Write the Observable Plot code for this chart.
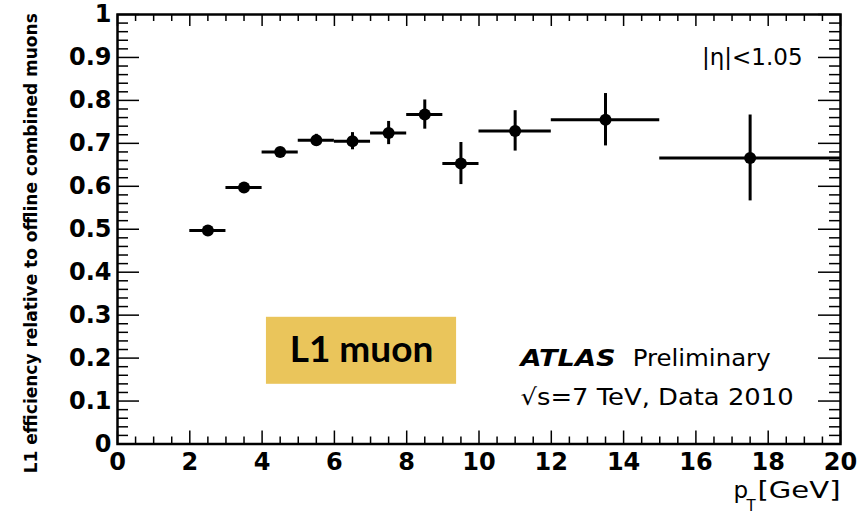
<!DOCTYPE html>
<html><head><meta charset="utf-8">
<script src="https://cdn.jsdelivr.net/npm/d3@7"></script>
<script src="https://cdn.jsdelivr.net/npm/@observablehq/plot@0.6"></script>
<style>body{margin:0;background:#fff;} svg{display:block;}</style>
</head><body><div id="chart"></div>
<script>
// pT bins [GeV]
const ptLow  = [2, 3, 4, 5, 6, 7, 8, 9, 10, 12, 15];
const ptHigh = [3, 4, 5, 6, 7, 8, 9, 10, 12, 15, 20];
// L1 efficiency and its (symmetric) uncertainty
const eff    = [0.497, 0.597, 0.680, 0.707, 0.705, 0.724, 0.767, 0.653, 0.729, 0.755, 0.666];
const effErr = [0.004, 0.004, 0.004, 0.014, 0.020, 0.027, 0.034, 0.049, 0.047, 0.061, 0.100];
// axis ticks
const xMajor = [0, 2, 4, 6, 8, 10, 12, 14, 16, 18, 20];
const xMinor = d3.range(0, 20.01, 0.5).filter(v => v % 2 !== 0);
const yMajor = [0, 0.1, 0.2, 0.3, 0.4, 0.5, 0.6, 0.7, 0.8, 0.9, 1];
const yMinor = d3.range(0, 50).map(i => i / 50).filter((v, i) => i % 5 !== 0);
// labels
const yTitle = "L1 efficiency relative to offline combined muons";
const etaLabel = "|η|<1.05";
const boxLabel = "L1 muon";

const W = 868, H = 521, mL = 117, mR = 28, mT = 14, mB = 77.5;
const fw = W - mL - mR, fh = H - mT - mB;
const idx = d3.range(eff.length);
const mid = i => (ptLow[i] + ptHigh[i]) / 2;
const font = "DejaVu Sans";

const plot = Plot.plot({
  width: W, height: H,
  marginLeft: mL, marginRight: mR, marginTop: mT, marginBottom: mB,
  x: {domain: [0, 20]},
  y: {domain: [0, 1]},
  style: {fontFamily: font, background: "white", color: "black", overflow: "visible"},
  marks: [
    // label box
    Plot.rect([boxLabel], {x1: 4.12, x2: 9.38, y1: 0.139, y2: 0.295, fill: "#EAC55B"}),
    Plot.text([boxLabel], {x: 6.75, y: 0.2175, text: d => d, fontFamily: "Lato", fontSize: 37, fontWeight: "bold", fill: "black"}),
    // tick labels
    Plot.axisX(xMajor, {tickSize: 0, tickPadding: 9, fontSize: 24, fontWeight: "bold", tickFormat: d => String(d), label: null}),
    Plot.axisY(yMajor, {tickSize: 0, tickPadding: 6, fontSize: 24, fontWeight: "bold",
      tickFormat: d => (d === 0 ? "0" : d === 1 ? "1" : d.toFixed(1)), label: null}),
    // inward ticks (ROOT style)
    Plot.tickX(xMajor, {x: d => d, insetTop: fh - 13, strokeWidth: 1.5}),
    Plot.tickX(xMinor, {x: d => d, insetTop: fh - 7, strokeWidth: 1.5}),
    Plot.tickX(xMajor, {x: d => d, insetBottom: fh - 12, strokeWidth: 1.5}),
    Plot.tickX(xMinor, {x: d => d, insetBottom: fh - 7, strokeWidth: 1.5}),
    Plot.tickY(yMajor, {y: d => d, insetRight: fw - 22, strokeWidth: 1.5}),
    Plot.tickY(yMinor, {y: d => d, insetRight: fw - 11, strokeWidth: 1.5}),
    Plot.tickY(yMajor, {y: d => d, insetLeft: fw - 22, strokeWidth: 1.5}),
    Plot.tickY(yMinor, {y: d => d, insetLeft: fw - 11, strokeWidth: 1.5}),
    Plot.frame({stroke: "black", strokeWidth: 2.5}),
    // data
    Plot.ruleY(idx, {y: i => eff[i], x1: i => ptLow[i], x2: i => ptHigh[i], stroke: "black", strokeWidth: 3}),
    Plot.ruleX(idx, {x: mid, y1: i => eff[i] - effErr[i], y2: i => eff[i] + effErr[i], stroke: "black", strokeWidth: 3}),
    Plot.dot(idx, {x: mid, y: i => eff[i], r: 6, fill: "black", stroke: "none"}),
    // annotations
    Plot.text([etaLabel], {x: 18.95, y: 0.9, text: d => d, textAnchor: "end", fontSize: 23, fill: "black"}),
    Plot.text(["ATLAS"], {x: 11.15, y: 0.199, text: d => d, textAnchor: "start", fontSize: 23, fontWeight: "bold", fontStyle: "italic", fill: "black"}),
    Plot.text(["Preliminary"], {x: 14.25, y: 0.199, text: d => d, textAnchor: "start", fontSize: 23, fill: "black"}),
    Plot.text(["√s=7 TeV, Data 2010"], {x: 11.15, y: 0.108, text: d => d, textAnchor: "start", fontSize: 23, fill: "black"}),
    // axis titles
    Plot.text([yTitle], {frameAnchor: "left", text: d => d, textAnchor: "middle", rotate: -90, dx: -86, dy: 14, fontSize: 17, fontWeight: "bold", fill: "black"}),
    Plot.text(["[GeV]"], {frameAnchor: "bottom-right", text: d => d, textAnchor: "end", dx: 0, dy: 54, fontSize: 23, fill: "black"}),
    Plot.text(["p"], {frameAnchor: "bottom-right", text: d => d, textAnchor: "start", dx: -107, dy: 54, fontSize: 23, fill: "black"}),
    Plot.text(["T"], {frameAnchor: "bottom-right", text: d => d, textAnchor: "start", dx: -94, dy: 67, fontSize: 15, fill: "black"})
  ]
});
document.getElementById("chart").appendChild(plot);

// the reference's text is horizontally stretched: fit a few labels to its widths
const stretchTo = {"ATLAS": 95, "Preliminary": 138, "√s=7 TeV, Data 2010": 273, "[GeV]": 83};
d3.select(plot).selectAll("text").each(function () {
  const w = stretchTo[this.textContent];
  if (w) d3.select(this).attr("textLength", w).attr("lengthAdjust", "spacingAndGlyphs");
});
</script>
</body></html>
